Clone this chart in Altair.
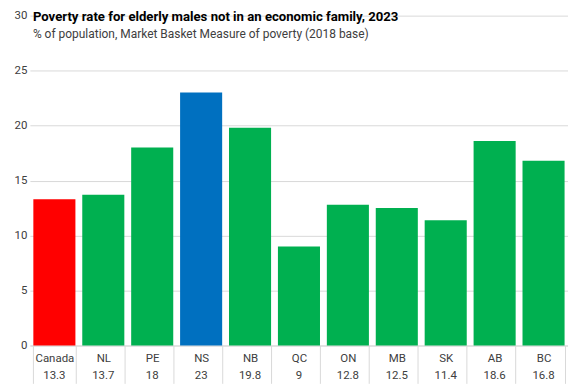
import altair as alt
import pandas as pd

regions = ["Canada", "NL", "PE", "NS", "NB", "QC", "ON", "MB", "SK", "AB", "BC"]
rates = [13.3, 13.7, 18, 23, 19.8, 9, 12.8, 12.5, 11.4, 18.6, 16.8]
kinds = ["national", "province", "province", "highlight", "province", "province",
         "province", "province", "province", "province", "province"]
y_ticks = [0, 5, 10, 15, 20, 25, 30]

title_text = "Poverty rate for elderly males not in an economic family, 2023"
subtitle_text = "% of population, Market Basket Measure of poverty (2018 base)"

df = pd.DataFrame({"region": regions, "rate": rates, "kind": kinds})
df["label"] = [f"{v:g}" for v in rates]

W, H = 540, 331
TOP = 7
BOTTOM = 38
FONT = "Roboto"
GRID = "#D9D9D9"
TXT = "#404040"

x_enc = alt.X(
    "region:N",
    sort=regions,
    scale=alt.Scale(paddingInner=0.14, paddingOuter=0.07),
    axis=alt.Axis(
        title=None, labelAngle=0, tickBand="extent", tickSize=BOTTOM,
        tickColor=GRID, domainColor=GRID, labelPadding=13 - BOTTOM,
        labelFont=FONT, labelFontSize=11.5, labelColor=TXT,
        labelBaseline="middle",
    ),
)

bars = alt.Chart(df).mark_bar().encode(
    x=x_enc,
    y=alt.Y(
        "rate:Q",
        scale=alt.Scale(domain=[0, 30], nice=False),
        axis=alt.Axis(
            title=None, values=y_ticks, domain=False, ticks=False,
            gridColor=GRID, labelPadding=3, labelFont=FONT,
            labelFontSize=11.5, labelColor=TXT,
        ),
    ),
    color=alt.Color(
        "kind:N",
        scale=alt.Scale(domain=["national", "province", "highlight"],
                        range=["#FF0000", "#00B050", "#0070C0"]),
        legend=None,
    ),
)

values_row = alt.Chart(df).mark_text(
    font=FONT, fontSize=11.5, color=TXT, baseline="middle"
).encode(
    x=alt.X("region:N", sort=regions),
    y=alt.value(H + 31),
    text="label:N",
)

title = alt.Chart(pd.DataFrame({"t": [title_text]})).mark_text(
    font=FONT, fontSize=13.2, fontWeight="bold", color="#000000",
    align="left", baseline="alphabetic",
).encode(x=alt.value(3), y=alt.value(5), text="t:N")

subtitle = alt.Chart(pd.DataFrame({"t": [subtitle_text]})).mark_text(
    font=FONT, fontSize=12, color=TXT,
    align="left", baseline="alphabetic",
).encode(x=alt.value(3), y=alt.value(22), text="t:N")

chart = alt.layer(bars, values_row, title, subtitle).properties(
    width=W, height=H,
    autosize=alt.AutoSizeParams(type="none"),
    padding={"left": 22, "top": TOP, "right": 0, "bottom": BOTTOM},
).configure_view(stroke=None)

chart.save("out.html", embed_options={"renderer": "svg", "actions": False})
